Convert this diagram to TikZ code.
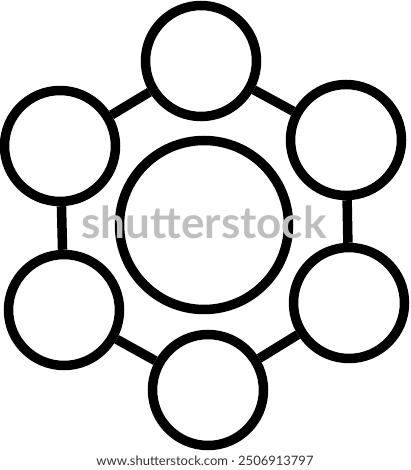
\documentclass[tikz,border=0pt]{standalone}
\usepackage{fontspec}
\setmainfont{Lato}
\begin{document}
\begin{tikzpicture}[x=1pt,y=-1pt,
  ring/.style={circle,draw=black,line width=9.5pt,inner sep=0pt,minimum size=111pt},
  hubring/.style={circle,draw=black,line width=9.5pt,inner sep=0pt,minimum size=169pt},
  link/.style={draw=black,line width=9.5pt}]
\useasboundingbox[fill=white] (0,0) rectangle (410,470);
\node[ring] (t) at (201,61) {};
\node[ring] (ul) at (60,146) {};
\node[ring] (ur) at (346,140) {};
\node[ring] (ll) at (64,310) {};
\node[ring] (lr) at (349,303) {};
\node[ring] (b) at (208,390) {};
\node[hubring] (c) at (204,225) {};
\draw[link] (t) -- (ul);
\draw[link] (t) -- (ur);
\draw[link] (ul) -- (ll);
\draw[link] (ur) -- (lr);
\draw[link] (ll) -- (b);
\draw[link] (b) -- (lr);
\node[text=black!25,font=\bfseries\fontsize{44}{44}\selectfont,inner sep=0pt] (wm) at (204,222) {shutterstock};
\node[text=black!80,font=\fontsize{13}{13}\selectfont,inner sep=0pt] (url) at (205,461) {www.shutterstock.com · 2506913797};
\end{tikzpicture}
\end{document}
